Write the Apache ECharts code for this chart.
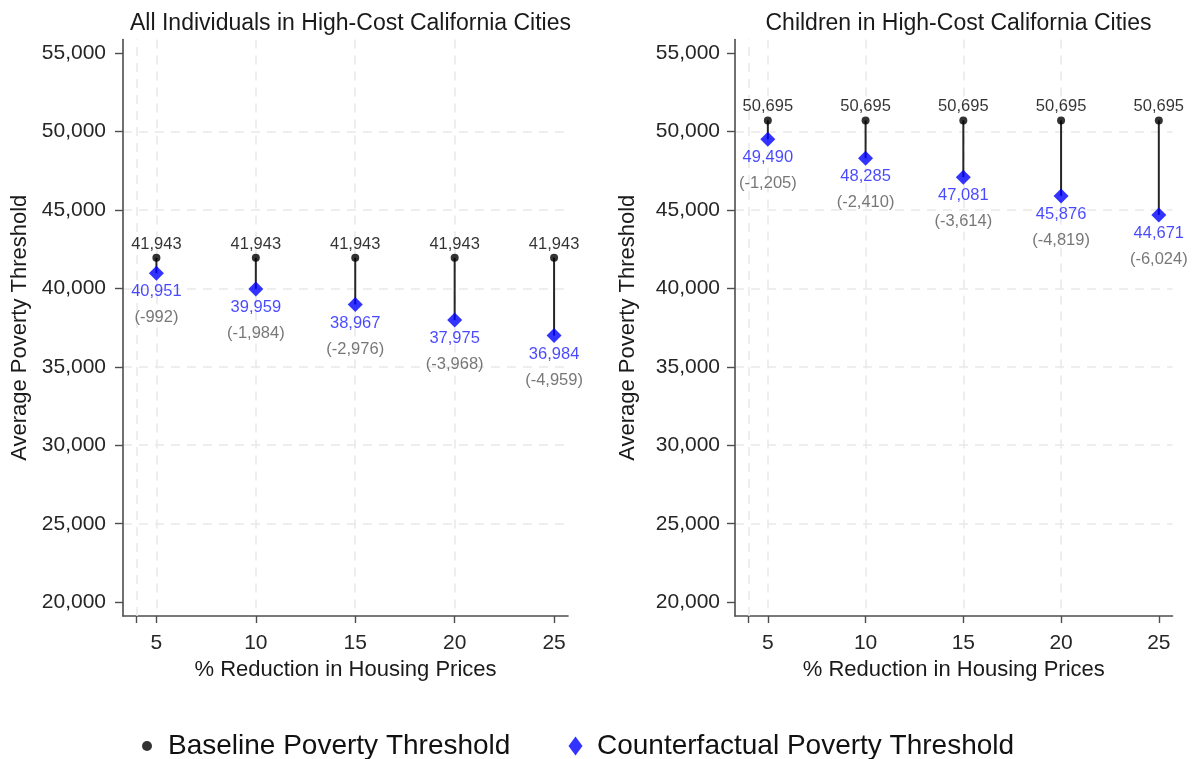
<!DOCTYPE html>
<html><head><meta charset="utf-8">
<script src="https://cdn.jsdelivr.net/npm/echarts@6/dist/echarts.min.js"></script>
<style>html,body{margin:0;padding:0;background:#fff}#c{width:1193px;height:759px}</style>
</head><body><div id="c"></div>
<script>
const reductions = [5, 10, 15, 20, 25];
const allBaseline = [41943, 41943, 41943, 41943, 41943];
const allCounterfactual = [40951, 39959, 38967, 37975, 36984];
const allChange = [-992, -1984, -2976, -3968, -4959];
const kidsBaseline = [50695, 50695, 50695, 50695, 50695];
const kidsCounterfactual = [49490, 48285, 47081, 45876, 44671];
const kidsChange = [-1205, -2410, -3614, -4819, -6024];
const yTickValues = [20000, 25000, 30000, 35000, 40000, 45000, 50000, 55000];
const xTickValues = [4, 5, 10, 15, 20, 25];
const xLabelValues = [5, 10, 15, 20, 25];
const panelTitles = ['All Individuals in High-Cost California Cities', 'Children in High-Cost California Cities'];
const seriesNames = ['Baseline Poverty Threshold', 'Counterfactual Poverty Threshold'];

const FONT = 'Liberation Sans, Arial, sans-serif';
const fmt = v => Number(v).toLocaleString('en-US');
const gridColor = '#e9e9e9';
const gridLine = { color: gridColor, type: [9, 7], width: 1.5 };

function xAxis(gi) {
  return {
    type: 'value', gridIndex: gi, min: 3.32, max: 25.7,
    name: '% Reduction in Housing Prices', nameLocation: 'middle', nameGap: 41,
    nameTextStyle: { fontSize: 22, color: '#1a1a1a', fontFamily: FONT },
    axisLine: { show: true, onZero: false, lineStyle: { color: '#4d4d4d', width: 1.6 } },
    axisTick: { show: true, length: 7, customValues: xTickValues, lineStyle: { color: '#4d4d4d', width: 1.4 } },
    axisLabel: { customValues: xLabelValues, fontSize: 21, color: '#262626', fontFamily: FONT, margin: 17 },
    splitLine: { show: true, showMinLine: false, showMaxLine: false, lineStyle: gridLine }
  };
}
function yAxis(gi, margin, gap) {
  return {
    type: 'value', gridIndex: gi, min: 19120, max: 55850, splitNumber: 8,
    name: 'Average Poverty Threshold', nameLocation: 'middle', nameGap: gap,
    nameTextStyle: { fontSize: 22, color: '#1a1a1a', fontFamily: FONT },
    axisLine: { show: true, lineStyle: { color: '#4d4d4d', width: 1.6 } },
    axisTick: { show: true, length: 8, customValues: yTickValues, lineStyle: { color: '#4d4d4d', width: 1.4 } },
    axisLabel: { customValues: yTickValues, fontSize: 21, color: '#262626', fontFamily: FONT, margin: margin, formatter: v => fmt(v) },
    splitLine: { show: true, showMinLine: false, showMaxLine: false, lineStyle: gridLine }
  };
}

function panelSeries(gi, base, cf, change) {
  return [
    {
      type: 'custom', xAxisIndex: gi, yAxisIndex: gi, z: 2, silent: true,
      data: reductions.map((r, i) => [r, base[i], cf[i]]),
      encode: { x: 0, y: [1, 2] },
      renderItem: (params, api) => {
        const p1 = api.coord([api.value(0), api.value(1)]);
        const p2 = api.coord([api.value(0), api.value(2)]);
        return { type: 'line', shape: { x1: p1[0], y1: p1[1], x2: p2[0], y2: p2[1] }, style: { stroke: '#262626', lineWidth: 2 } };
      },
      markLine: {
        silent: true, symbol: 'none', z: 1, label: { show: false },
        lineStyle: gridLine,
        data: xTickValues.filter(v => xLabelValues.indexOf(v) < 0).map(v => ({ xAxis: v }))
      }
    },
    {
      type: 'scatter', name: seriesNames[0], xAxisIndex: gi, yAxisIndex: gi, z: 4,
      symbol: 'circle', symbolSize: 8, itemStyle: { color: '#000' },
      data: reductions.map((r, i) => [r, base[i]]),
      label: { show: true, position: 'top', distance: 1, fontSize: 16.5, color: '#000', fontFamily: FONT, formatter: p => fmt(p.value[1]) }
    },
    {
      type: 'scatter', name: seriesNames[1], xAxisIndex: gi, yAxisIndex: gi, z: 5,
      symbol: 'diamond', symbolSize: 15, itemStyle: { color: '#0000ff' },
      data: reductions.map((r, i) => [r, cf[i], change[i]]),
      label: {
        show: true, position: 'bottom', distance: -2, fontFamily: FONT,
        formatter: p => '{v|' + fmt(p.value[1]) + '}\n{d|(' + fmt(p.value[2]) + ')}',
        rich: {
          v: { fontSize: 16.5, color: '#1a1aff', lineHeight: 26, fontFamily: FONT },
          d: { fontSize: 16.5, color: '#555555', lineHeight: 26, fontFamily: FONT }
        }
      }
    }
  ];
}

const chart = echarts.init(document.getElementById('c'), null, { renderer: 'canvas' });
chart.setOption({
  animation: false,
  backgroundColor: '#fff',
  title: [
    { text: panelTitles[0], left: 345.5, top: 7, textAlign: 'center', textStyle: { fontSize: 23, fontWeight: 'normal', color: '#1a1a1a', fontFamily: FONT } },
    { text: panelTitles[1], left: 953.5, top: 7, textAlign: 'center', textStyle: { fontSize: 23, fontWeight: 'normal', color: '#1a1a1a', fontFamily: FONT } }
  ],
  legend: [
    { data: [{ name: seriesNames[0], icon: 'circle' }], left: 137, top: 727, itemWidth: 10, itemHeight: 10, selectedMode: false,
      textStyle: { fontSize: 28, color: '#111', fontFamily: FONT, padding: [0, 0, 0, 11] } },
    { data: [{ name: seriesNames[1], icon: 'diamond' }], left: 563.5, top: 727, itemWidth: 14, itemHeight: 19, selectedMode: false,
      textStyle: { fontSize: 28, color: '#111', fontFamily: FONT, padding: [0, 0, 0, 9.5] } }
  ],
  grid: [
    { left: 123, top: 39.5, width: 445, height: 576.5 },
    { left: 735, top: 39.5, width: 437.5, height: 576.5 }
  ],
  xAxis: [xAxis(0), xAxis(1)],
  yAxis: [yAxis(0, 17, 92), yAxis(1, 15, 96)],
  series: [].concat(panelSeries(0, allBaseline, allCounterfactual, allChange), panelSeries(1, kidsBaseline, kidsCounterfactual, kidsChange))
});
</script>
</body></html>
